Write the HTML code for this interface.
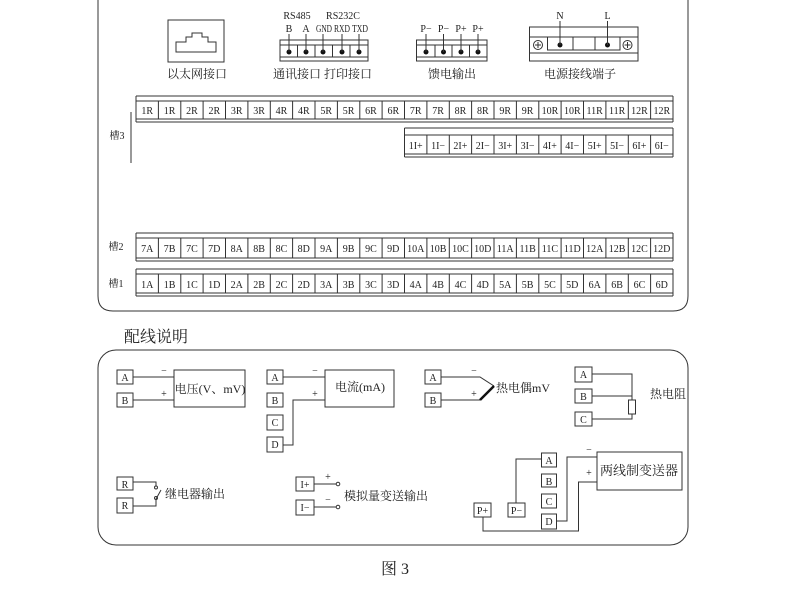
<!DOCTYPE html>
<html><head><meta charset="utf-8"><style>
html,body{margin:0;padding:0;background:#fff;}
svg{display:block;font-family:"Liberation Serif","Noto Serif CJK SC",serif;}
text{fill:#222;}
.s{fill:none;stroke:#333;stroke-width:1;}
.t{font-size:10px;text-anchor:middle;}
.c{font-size:12px;text-anchor:middle;}
.z{font-size:12px;}
</style></head><body>
<svg width="790" height="599" viewBox="0 0 790 599" xmlns="http://www.w3.org/2000/svg">
<!-- top panel -->
<path class="s" d="M98 -5 V296 Q98 311 113 311 H673 Q688 311 688 296 V-5" stroke-width="1.2"/>
<!-- ethernet -->
<rect class="s" x="168" y="20" width="56" height="42"/>
<path class="s" d="M176 52 V42 H186 V37 H192 V33 H202 V37 H208 V42 H216 V52 Z"/>
<text class="c" x="197" y="78">以太网接口</text>
<!-- RS485 -->
<rect class="s" x="280" y="40" width="88" height="21"/>
<path class="s" d="M280 45 H368 M280 57 H368 M297.5 45 V57 M315 45 V57 M332.5 45 V57 M350 45 V57"/>
<g fill="#111"><circle cx="289" cy="52" r="2.5"/><circle cx="306" cy="52" r="2.5"/><circle cx="323" cy="52" r="2.5"/><circle cx="342" cy="52" r="2.5"/><circle cx="359" cy="52" r="2.5"/></g>
<path class="s" d="M289 34 V52 M306 34 V52 M323 34 V52 M342 34 V52 M359 34 V52"/>
<text class="t" x="297" y="19">RS485</text><text class="t" x="343" y="19">RS232C</text>
<text class="t" x="289" y="32">B</text><text class="t" x="306" y="32">A</text>
<text class="t" x="324" y="32" font-size="9" textLength="16" lengthAdjust="spacingAndGlyphs">GND</text>
<text class="t" x="342" y="32" font-size="9" textLength="16" lengthAdjust="spacingAndGlyphs">RXD</text>
<text class="t" x="360" y="32" font-size="9" textLength="16" lengthAdjust="spacingAndGlyphs">TXD</text>
<text class="c" x="297" y="78">通讯接口</text><text class="c" x="348" y="78">打印接口</text>
<!-- feed -->
<rect class="s" x="416.5" y="40" width="70.5" height="21"/>
<path class="s" d="M416.5 45 H487 M416.5 57 H487 M435 45 V57 M452 45 V57 M469.5 45 V57"/>
<g fill="#111"><circle cx="426" cy="52" r="2.5"/><circle cx="443.5" cy="52" r="2.5"/><circle cx="461" cy="52" r="2.5"/><circle cx="478" cy="52" r="2.5"/></g>
<path class="s" d="M426 34 V52 M443.5 34 V52 M461 34 V52 M478 34 V52"/>
<text class="t" x="426" y="32">P−</text><text class="t" x="443.5" y="32">P−</text><text class="t" x="461" y="32">P+</text><text class="t" x="478" y="32">P+</text>
<text class="c" x="452" y="78">馈电输出</text>
<!-- power -->
<rect class="s" x="529.5" y="27" width="108.5" height="34"/>
<path class="s" d="M529.5 37 H638 M529.5 53 H638"/>
<rect class="s" x="547.5" y="37" width="72.5" height="13"/>
<path class="s" d="M573 37 V50 M595 37 V50"/>
<circle class="s" cx="538" cy="45" r="4.5"/><circle class="s" cx="627.5" cy="45" r="4.5"/>
<path class="s" d="M535 45 H541 M538 42 V48 M624.5 45 H630.5 M627.5 42 V48" stroke-width="0.7"/>
<g fill="#111"><circle cx="560" cy="45" r="2.5"/><circle cx="607.5" cy="45" r="2.5"/></g>
<path class="s" d="M560 21 V45 M607.5 21 V45"/>
<text class="t" x="560" y="19">N</text><text class="t" x="607.5" y="19">L</text>
<text class="c" x="580" y="78">电源接线端子</text>
<!-- slot 3 -->
<path class="s" d="M136 96 H673 M136 101 H673 M136 119 H673 M136 122 H673 M136 96 V122 M673 96 V122"/>
<path class="s" d="M158.4 101V119M180.8 101V119M203.1 101V119M225.5 101V119M247.9 101V119M270.3 101V119M292.6 101V119M315 101V119M337.4 101V119M359.8 101V119M382.1 101V119M404.5 101V119M426.9 101V119M449.3 101V119M471.6 101V119M494 101V119M516.4 101V119M538.8 101V119M561.1 101V119M583.5 101V119M605.9 101V119M628.3 101V119M650.6 101V119"/>
<g class="t"><text x="147.2" y="114">1R</text><text x="169.6" y="114">1R</text><text x="192" y="114">2R</text><text x="214.3" y="114">2R</text><text x="236.7" y="114">3R</text><text x="259.1" y="114">3R</text><text x="281.4" y="114">4R</text><text x="303.8" y="114">4R</text><text x="326.2" y="114">5R</text><text x="348.6" y="114">5R</text><text x="370.9" y="114">6R</text><text x="393.3" y="114">6R</text><text x="415.7" y="114">7R</text><text x="438.1" y="114">7R</text><text x="460.4" y="114">8R</text><text x="482.8" y="114">8R</text><text x="505.2" y="114">9R</text><text x="527.6" y="114">9R</text><text x="549.9" y="114">10R</text><text x="572.3" y="114">10R</text><text x="594.7" y="114">11R</text><text x="617.1" y="114">11R</text><text x="639.4" y="114">12R</text><text x="661.8" y="114">12R</text></g>
<path class="s" d="M404.5 128 H673 M404.5 135 H673 M404.5 154 H673 M404.5 157 H673 M404.5 128 V157 M673 128 V157"/>
<path class="s" d="M426.9 135V154M449.3 135V154M471.6 135V154M494 135V154M516.4 135V154M538.8 135V154M561.1 135V154M583.5 135V154M605.9 135V154M628.3 135V154M650.6 135V154"/>
<g class="t"><text x="415.7" y="149">1I+</text><text x="438.1" y="149">1I−</text><text x="460.4" y="149">2I+</text><text x="482.8" y="149">2I−</text><text x="505.2" y="149">3I+</text><text x="527.6" y="149">3I−</text><text x="549.9" y="149">4I+</text><text x="572.3" y="149">4I−</text><text x="594.7" y="149">5I+</text><text x="617.1" y="149">5I−</text><text x="639.4" y="149">6I+</text><text x="661.8" y="149">6I−</text></g>
<path class="s" d="M131 112 V163" stroke-width="0.8"/>
<text class="t" x="117" y="139">槽3</text>
<!-- slot 2 -->
<path class="s" d="M136 233 H673 M136 238 H673 M136 258 H673 M136 261 H673 M136 233 V261 M673 233 V261"/>
<path class="s" d="M158.4 238V258M180.8 238V258M203.1 238V258M225.5 238V258M247.9 238V258M270.3 238V258M292.6 238V258M315 238V258M337.4 238V258M359.8 238V258M382.1 238V258M404.5 238V258M426.9 238V258M449.3 238V258M471.6 238V258M494 238V258M516.4 238V258M538.8 238V258M561.1 238V258M583.5 238V258M605.9 238V258M628.3 238V258M650.6 238V258"/>
<g class="t"><text x="147.2" y="252">7A</text><text x="169.6" y="252">7B</text><text x="192" y="252">7C</text><text x="214.3" y="252">7D</text><text x="236.7" y="252">8A</text><text x="259.1" y="252">8B</text><text x="281.4" y="252">8C</text><text x="303.8" y="252">8D</text><text x="326.2" y="252">9A</text><text x="348.6" y="252">9B</text><text x="370.9" y="252">9C</text><text x="393.3" y="252">9D</text><text x="415.7" y="252">10A</text><text x="438.1" y="252">10B</text><text x="460.4" y="252">10C</text><text x="482.8" y="252">10D</text><text x="505.2" y="252">11A</text><text x="527.6" y="252">11B</text><text x="549.9" y="252">11C</text><text x="572.3" y="252">11D</text><text x="594.7" y="252">12A</text><text x="617.1" y="252">12B</text><text x="639.4" y="252">12C</text><text x="661.8" y="252">12D</text></g>
<text class="t" x="116" y="250">槽2</text>
<!-- slot 1 -->
<path class="s" d="M136 269 H673 M136 274 H673 M136 293 H673 M136 296 H673 M136 269 V296 M673 269 V296"/>
<path class="s" d="M158.4 274V293M180.8 274V293M203.1 274V293M225.5 274V293M247.9 274V293M270.3 274V293M292.6 274V293M315 274V293M337.4 274V293M359.8 274V293M382.1 274V293M404.5 274V293M426.9 274V293M449.3 274V293M471.6 274V293M494 274V293M516.4 274V293M538.8 274V293M561.1 274V293M583.5 274V293M605.9 274V293M628.3 274V293M650.6 274V293"/>
<g class="t"><text x="147.2" y="288">1A</text><text x="169.6" y="288">1B</text><text x="192" y="288">1C</text><text x="214.3" y="288">1D</text><text x="236.7" y="288">2A</text><text x="259.1" y="288">2B</text><text x="281.4" y="288">2C</text><text x="303.8" y="288">2D</text><text x="326.2" y="288">3A</text><text x="348.6" y="288">3B</text><text x="370.9" y="288">3C</text><text x="393.3" y="288">3D</text><text x="415.7" y="288">4A</text><text x="438.1" y="288">4B</text><text x="460.4" y="288">4C</text><text x="482.8" y="288">4D</text><text x="505.2" y="288">5A</text><text x="527.6" y="288">5B</text><text x="549.9" y="288">5C</text><text x="572.3" y="288">5D</text><text x="594.7" y="288">6A</text><text x="617.1" y="288">6B</text><text x="639.4" y="288">6C</text><text x="661.8" y="288">6D</text></g>
<text class="t" x="116" y="287">槽1</text>

<text x="124" y="342" style="font-size:16px">配线说明</text>

<!-- bottom panel -->
<rect class="s" x="98" y="350" width="590" height="195" rx="18" stroke-width="1.2"/>
<g class="t">
<!-- voltage -->
<rect class="s" x="117" y="370" width="16" height="14"/><text x="125" y="381">A</text>
<rect class="s" x="117" y="393" width="16" height="14"/><text x="125" y="404">B</text>
<rect class="s" x="174" y="370" width="71" height="37"/>
<path class="s" d="M133 377 H174 M133 400 H174"/>
<text x="164" y="374">−</text><text x="164" y="397">+</text>
<text x="210" y="393" class="z">电压(V、mV)</text>
<!-- current -->
<rect class="s" x="267" y="370" width="16" height="14"/><text x="275" y="381">A</text>
<rect class="s" x="267" y="393" width="16" height="14"/><text x="275" y="404">B</text>
<rect class="s" x="267" y="415" width="16" height="15"/><text x="275" y="426">C</text>
<rect class="s" x="267" y="437" width="16" height="15"/><text x="275" y="448">D</text>
<rect class="s" x="325" y="370" width="69" height="37"/>
<path class="s" d="M283 377 H325 M283 445 H293 V400 H325"/>
<text x="315" y="374">−</text><text x="315" y="397">+</text>
<text x="360" y="391" class="z">电流(mA)</text>
<!-- thermocouple -->
<rect class="s" x="425" y="370" width="16" height="14"/><text x="433" y="381">A</text>
<rect class="s" x="425" y="393" width="16" height="14"/><text x="433" y="404">B</text>
<path class="s" d="M441 377 H480 L494 386 M441 400 H480"/>
<path d="M480 400 L494 386" stroke="#111" stroke-width="2.5" fill="none"/>
<text x="474" y="374">−</text><text x="474" y="397">+</text>
<text x="523" y="392" class="z">热电偶mV</text>
<!-- RTD -->
<rect class="s" x="575" y="367" width="17" height="15"/><text x="583.5" y="378">A</text>
<rect class="s" x="575" y="389" width="17" height="14"/><text x="583.5" y="400">B</text>
<rect class="s" x="575" y="412" width="17" height="14"/><text x="583.5" y="423">C</text>
<path class="s" d="M592 374 H632 V400 M592 396 H632 M592 419 H632 V414"/>
<rect class="s" x="628.5" y="400" width="7" height="14"/>
<text x="668" y="398" class="z">热电阻</text>
<!-- relay -->
<rect class="s" x="117" y="477" width="16" height="13"/><text x="125" y="488">R</text>
<rect class="s" x="117" y="498" width="16" height="15"/><text x="125" y="509">R</text>
<path class="s" d="M133 482 H156 V486 M133 506 H156 V499 M156 499 L161 490"/>
<circle class="s" cx="156" cy="487.5" r="1.5"/><circle class="s" cx="156" cy="498" r="1.5"/>
<text x="195" y="498" class="z">继电器输出</text>
<!-- analog -->
<rect class="s" x="296" y="477" width="18" height="14"/><text x="305" y="488">I+</text>
<rect class="s" x="296" y="500" width="18" height="15"/><text x="305" y="511">I−</text>
<path class="s" d="M314 484 H336 M314 507 H336"/>
<circle class="s" cx="338" cy="484" r="1.8"/><circle class="s" cx="338" cy="507" r="1.8"/>
<text x="328" y="480">+</text><text x="328" y="503">−</text>
<text x="386" y="500" class="z">模拟量变送输出</text>
<!-- two-wire -->
<rect class="s" x="597" y="452" width="85" height="38"/>
<text x="639" y="475" style="font-size:13px">两线制变送器</text>
<rect class="s" x="541.5" y="453" width="15" height="14"/><text x="549" y="464">A</text>
<rect class="s" x="541.5" y="474" width="15" height="13"/><text x="549" y="485">B</text>
<rect class="s" x="541.5" y="494" width="15" height="14"/><text x="549" y="505">C</text>
<rect class="s" x="541.5" y="514" width="15" height="15"/><text x="549" y="525">D</text>
<rect class="s" x="474" y="503" width="17" height="14"/><text x="482.5" y="514">P+</text>
<rect class="s" x="508" y="503" width="17" height="14"/><text x="516.5" y="514">P−</text>
<path class="s" d="M516 503 V459 H541.5 M556.5 521 H567 V457 H597 M597 482 H578.5 V531 H483 V517"/>
<text x="589" y="453">−</text><text x="589" y="476">+</text>
</g>
<text x="395" y="574" style="font-size:16px;text-anchor:middle">图 3</text>
</svg>
</body></html>
